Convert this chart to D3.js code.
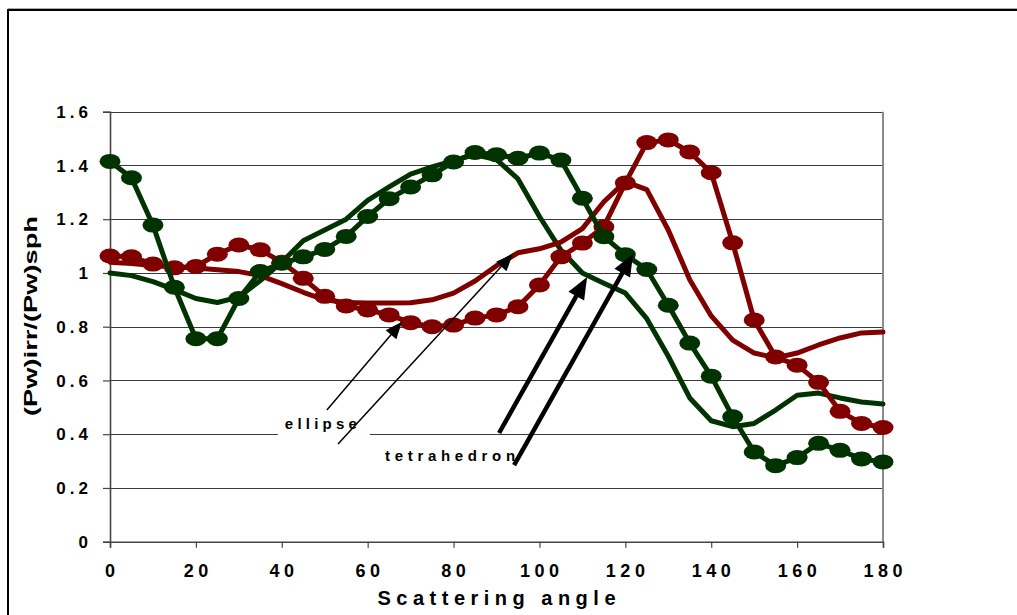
<!DOCTYPE html>
<html><head><meta charset="utf-8">
<script src="https://cdn.jsdelivr.net/npm/d3@7"></script>
<style>html,body{margin:0;padding:0;background:#fff;}svg{display:block;}</style>
</head><body>
<svg id="c" width="1017" height="615"></svg>
<script>
const angles = [0,5,10,15,20,25,30,35,40,45,50,55,60,65,70,75,80,85,90,95,100,105,110,115,120,125,130,135,140,145,150,155,160,165,170,175,180];
const tetraDots = [1.415,1.354,1.178,0.947,0.755,0.755,0.905,1.005,1.036,1.06,1.087,1.136,1.21,1.276,1.32,1.365,1.413,1.448,1.44,1.427,1.446,1.42,1.278,1.135,1.068,1.013,0.88,0.739,0.616,0.465,0.334,0.283,0.313,0.366,0.34,0.308,0.297];
const tetraLine = [1.0,0.99,0.968,0.938,0.905,0.89,0.91,0.972,1.04,1.12,1.16,1.2,1.27,1.32,1.368,1.395,1.418,1.44,1.422,1.35,1.21,1.085,1.0,0.962,0.925,0.83,0.69,0.535,0.45,0.428,0.44,0.49,0.545,0.553,0.535,0.52,0.512];
const ellipseDots = [1.063,1.06,1.033,1.019,1.024,1.07,1.104,1.086,1.04,0.98,0.913,0.877,0.862,0.844,0.815,0.8,0.806,0.832,0.844,0.874,0.955,1.06,1.111,1.172,1.335,1.485,1.495,1.45,1.373,1.112,0.825,0.687,0.657,0.593,0.485,0.44,0.425];
const ellipseLine = [1.04,1.035,1.028,1.022,1.018,1.012,1.005,0.99,0.96,0.928,0.9,0.89,0.888,0.888,0.889,0.9,0.925,0.97,1.027,1.075,1.09,1.115,1.165,1.265,1.34,1.31,1.16,0.975,0.84,0.75,0.702,0.684,0.702,0.732,0.758,0.777,0.78];
const xTicks = [0,20,40,60,80,100,120,140,160,180];
const yTicks = [0,0.2,0.4,0.6,0.8,1,1.2,1.4,1.6];
const yTickLabels = ["0","0.2","0.4","0.6","0.8","1","1.2","1.4","1.6"];
// annotation text and arrows in data coordinates [angle, value]
const ellipseLabel = {text:"ellipse", at:[49.1,0.438], len:72};
const tetraLabel = {text:"tetrahedron", at:[79.2,0.3226], len:130};
const ellipseArrows = [[[50.5,0.49],[68.0,0.818]], [[53.1,0.3635],[93.8,1.0705]]];
const tetraArrows = [[[90.6,0.4045],[111.1,0.985]], [[94.1,0.285],[121.8,1.0705]]];

const GREEN = "#003300", RED = "#800000";
const FONT = "'Liberation Sans', Arial, Helvetica, sans-serif";
const svg = d3.select("#c");
const L = 110, R = 883, T = 111.7, B = 541.7;
const x = d3.scaleLinear().domain([0,180]).range([L,R]);
const y = d3.scaleLinear().domain([0,1.6]).range([B,T]);

// outer frame
svg.append("rect").attr("x",8).attr("y",10).attr("width",1100).attr("height",700)
  .attr("fill","none").attr("stroke","#000").attr("stroke-width",2);
svg.append("line").attr("x1",8).attr("x2",1017).attr("y1",8.5).attr("y2",8.5).attr("stroke","#aaa").attr("stroke-width",1);

// gridlines
svg.append("g").selectAll("line").data(yTicks.filter(d=>d>0)).join("line")
  .attr("x1",L).attr("x2",R).attr("y1",d=>Math.round(y(d))+0.5).attr("y2",d=>Math.round(y(d))+0.5)
  .attr("stroke","#3a3a3a").attr("stroke-width",1);
// right border of plot area
svg.append("line").attr("x1",R).attr("x2",R).attr("y1",T).attr("y2",B).attr("stroke","#8c8c8c").attr("stroke-width",2);

// axes
const yAxis = d3.axisLeft(y).tickValues(yTicks).tickSize(7).tickFormat("");
const gy = svg.append("g").attr("transform",`translate(${L},0)`).call(yAxis);
const xAxis = d3.axisBottom(x).tickValues(xTicks).tickSize(6).tickFormat("");
const gx = svg.append("g").attr("transform",`translate(0,${B})`).call(xAxis);
[gy,gx].forEach(g=>{g.select(".domain").attr("stroke","#444").attr("stroke-width",1.6);g.selectAll(".tick line").attr("stroke","#444").attr("stroke-width",1.2);});

// tick labels
svg.append("g").selectAll("text").data(yTicks).join("text")
  .attr("x",88+4).attr("y",d=>y(d)).attr("dy","0.36em")
  .attr("text-anchor","end").attr("font-family",FONT).attr("font-weight","bold")
  .attr("font-size",17).attr("letter-spacing","4px").attr("fill","#000")
  .text((d,i)=>yTickLabels[i]);
svg.append("g").selectAll("text").data(xTicks).join("text")
  .attr("x",d=>x(d)+2.3).attr("y",577)
  .attr("text-anchor","middle").attr("font-family",FONT).attr("font-weight","bold")
  .attr("font-size",18).attr("letter-spacing","4.5px").attr("fill","#000")
  .text(d=>d);

// axis titles
svg.append("text").attr("x",(L+R)/2).attr("y",605).attr("text-anchor","middle")
  .attr("font-family",FONT).attr("font-weight","bold").attr("font-size",20)
  .attr("textLength",238).attr("lengthAdjust","spacing").text("Scattering angle");
svg.append("text").attr("transform","translate(37,316) rotate(-90)").attr("text-anchor","middle")
  .attr("font-family",FONT).attr("font-weight","bold").attr("font-size",18)
  .attr("textLength",200).attr("lengthAdjust","spacingAndGlyphs").text("(Pw)irr/(Pw)sph");

// series
const line = d3.line().x((d,i)=>x(angles[i])).y(d=>y(d));
const plot = svg.append("g");
function drawLine(vals,color){
  plot.append("path").datum(vals).attr("d",line).attr("fill","none").attr("stroke",color)
    .attr("stroke-width",5).attr("stroke-linejoin","round").attr("stroke-linecap","round");
}
function drawDots(vals,color){
  drawLine(vals,color);
  plot.append("g").selectAll("ellipse").data(vals).join("ellipse")
    .attr("cx",(d,i)=>x(angles[i])).attr("cy",d=>y(d)).attr("rx",10.5).attr("ry",7.5).attr("fill",color);
}
drawLine(tetraLine,GREEN);
drawLine(ellipseLine,RED);
drawDots(ellipseDots,RED);
drawDots(tetraDots,GREEN);

// annotations
const ann = svg.append("g");
function label(o){
  const cx = x(o.at[0]), cy = y(o.at[1]);
  ann.append("rect").attr("x",cx-o.len/2-7).attr("y",cy-11).attr("width",o.len+20).attr("height",22).attr("fill","#fff");
  ann.append("text").attr("x",cx).attr("y",cy+5.5).attr("text-anchor","middle")
    .attr("font-family",FONT).attr("font-weight","bold").attr("font-size",15)
    .attr("textLength",o.len).attr("lengthAdjust","spacing").text(o.text);
}
function arrow(a,w,hl,hw){
  const x1=x(a[0][0]), y1=y(a[0][1]), x2=x(a[1][0]), y2=y(a[1][1]);
  const dx=x2-x1, dy=y2-y1, len=Math.hypot(dx,dy), ux=dx/len, uy=dy/len;
  const bx=x2-ux*hl, by=y2-uy*hl;
  ann.append("line").attr("x1",x1).attr("y1",y1).attr("x2",bx+ux*2).attr("y2",by+uy*2)
    .attr("stroke","#000").attr("stroke-width",w);
  ann.append("path").attr("d",`M${x2},${y2}L${bx-uy*hw},${by+ux*hw}L${bx+uy*hw},${by-ux*hw}Z`).attr("fill","#000");
}
label(ellipseLabel);
label(tetraLabel);
ellipseArrows.forEach(a=>arrow(a,1.5,17,7));
tetraArrows.forEach(a=>arrow(a,4.5,22,9));
</script>
</body></html>
